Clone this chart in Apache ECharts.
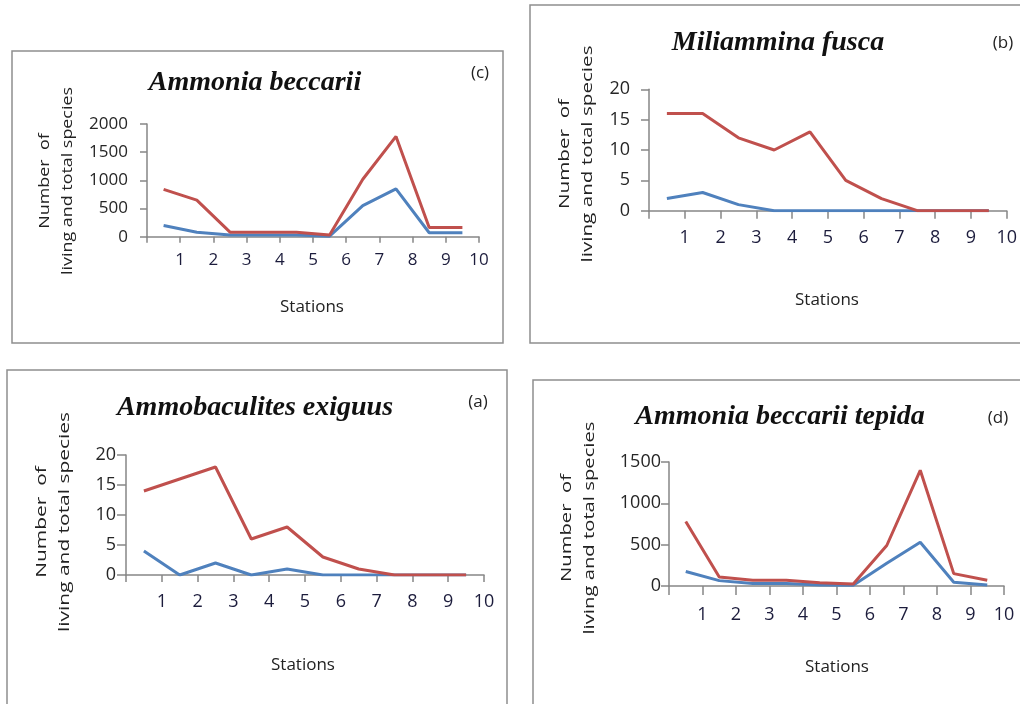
<!DOCTYPE html>
<html>
<head>
<meta charset="utf-8">
<script src="https://cdn.jsdelivr.net/npm/echarts@6/dist/echarts.min.js"></script>
<style>
  html, body { margin: 0; padding: 0; background: #ffffff; }
  #chart { width: 1020px; height: 704px; }
</style>
</head>
<body>
<div id="chart"></div>
<script>
// Stations along the x axis
const stations = ['1', '2', '3', '4', '5', '6', '7', '8', '9', '10'];

// Ammonia beccarii (c)
const beccariiLiving = [200, 80, 30, 30, 30, 10, 550, 850, 70, 70];
const beccariiTotal  = [840, 650, 80, 80, 80, 30, 1020, 1780, 165, 165];

// Miliammina fusca (b)
const fuscaLiving = [2, 3, 1, 0, 0, 0, 0, 0, 0, 0];
const fuscaTotal  = [16, 16, 12, 10, 13, 5, 2, 0, 0, 0];

// Ammobaculites exiguus (a)
const exiguusLiving = [4, 0, 2, 0, 1, 0, 0, 0, 0, 0];
const exiguusTotal  = [14, 16, 18, 6, 8, 3, 1, 0, 0, 0];

// Ammonia beccarii tepida (d)
const tepidaLiving = [175, 65, 30, 30, 12, 10, 275, 530, 45, 12];
const tepidaTotal  = [780, 110, 70, 70, 40, 25, 490, 1400, 150, 70];

const yAxisTitleLines = ['Number  of', 'living and total species'];
const xAxisTitle = 'Stations';

const BLUE = '#4f81bd';
const RED = '#c0504d';
const AXIS = '#868686';
const SANS = '"Open Sans", "Liberation Sans", sans-serif';
const SERIF = '"Liberation Serif", "DejaVu Serif", serif';
const Y_TITLE_FONT = '15px ' + SANS;

// Panel geometry (pixels)
const panels = [
  { tag: '(c)', name: 'Ammonia beccarii', living: beccariiLiving, total: beccariiTotal,
    max: 2000, step: 500,
    box: [12, 51, 491, 292], grid: [147, 124, 332, 112.7],
    titleAt: [255, 83], tagAt: [480, 73], yTitleAt: [56.5, 181], yTitleLen: 188, xTitleAt: [312, 307],
    fs: 17, yMargin: 19, yTick: 7, xTick: 6, xMargin: 15 },
  { tag: '(b)', name: 'Miliammina fusca', living: fuscaLiving, total: fuscaTotal,
    max: 20, step: 5,
    box: [530, 5, 520, 338], grid: [649, 89.3, 358, 121.4],
    titleAt: [778, 43], tagAt: [1003, 43], yTitleAt: [576.5, 154], yTitleLen: 217, xTitleAt: [827, 300],
    fs: 18, yMargin: 19, yTick: 8, xTick: 8, xMargin: 18 },
  { tag: '(a)', name: 'Ammobaculites exiguus', living: exiguusLiving, total: exiguusTotal,
    max: 20, step: 5,
    box: [7, 370, 500, 400], grid: [126, 455, 358, 120],
    titleAt: [255, 408], tagAt: [478, 402], yTitleAt: [53.5, 522], yTitleLen: 220, xTitleAt: [303, 665],
    fs: 18, yMargin: 10, yTick: 9, xTick: 7, xMargin: 18 },
  { tag: '(d)', name: 'Ammonia beccarii tepida', living: tepidaLiving, total: tepidaTotal,
    max: 1500, step: 500,
    box: [533, 380, 520, 400], grid: [669, 462, 335, 124],
    titleAt: [780, 417], tagAt: [998, 418], yTitleAt: [578.5, 528], yTitleLen: 213, xTitleAt: [837, 667],
    fs: 18, yMargin: 8, yTick: 8, xTick: 9, xMargin: 20 }
];

// Natural width of the longer y-title line, used to stretch it to the wanted length
const measureCtx = document.createElement('canvas').getContext('2d');
measureCtx.font = Y_TITLE_FONT;
const yTitleNatural = Math.max(...yAxisTitleLines.map(t => measureCtx.measureText(t).width));

const grid = [], xAxis = [], yAxis = [], series = [], graphic = [];

panels.forEach((p, i) => {
  grid.push({ left: p.grid[0], top: p.grid[1], width: p.grid[2], height: p.grid[3], containLabel: false });

  // Category axis carrying the data: points sit in the middle of each station band
  xAxis.push({
    type: 'category', gridIndex: i, data: stations, boundaryGap: true,
    axisLine: { show: true, lineStyle: { color: AXIS, width: 1.5 } },
    axisTick: { show: true, inside: false, length: p.xTick, lineStyle: { color: AXIS, width: 1.5 } },
    axisLabel: { show: false },
    splitLine: { show: false }
  });
  // Station numbers placed on the band boundaries
  xAxis.push({
    type: 'value', gridIndex: i, min: 0, max: stations.length, interval: 1, position: 'bottom',
    axisLine: { show: false }, axisTick: { show: false }, splitLine: { show: false },
    axisLabel: {
      margin: p.xMargin, fontFamily: SANS, fontSize: p.fs, color: '#1c1c3c',
      formatter: v => (v >= 1 ? stations[v - 1] : '')
    }
  });
  yAxis.push({
    type: 'value', gridIndex: i, min: 0, max: p.max, interval: p.step,
    axisLine: { show: true, lineStyle: { color: AXIS, width: 1.5 } },
    axisTick: { show: true, inside: false, length: p.yTick, lineStyle: { color: AXIS, width: 1.5 } },
    axisLabel: { margin: p.yMargin, fontFamily: SANS, fontSize: p.fs, color: '#262626',
      formatter: v => String(v) },
    splitLine: { show: false }
  });

  const lineOpts = { type: 'line', xAxisIndex: 2 * i, yAxisIndex: i, symbol: 'none',
    smooth: false, animation: false, z: 3 };
  series.push(Object.assign({ name: 'Living', data: p.living,
    lineStyle: { color: BLUE, width: 3 }, itemStyle: { color: BLUE } }, lineOpts));
  series.push(Object.assign({ name: 'Total', data: p.total,
    lineStyle: { color: RED, width: 3 }, itemStyle: { color: RED } }, lineOpts, { z: 4 }));

  // Panel frame
  graphic.push({ type: 'rect', shape: { x: p.box[0], y: p.box[1], width: p.box[2], height: p.box[3] },
    style: { fill: 'none', stroke: '#8f8f8f', lineWidth: 1.5 }, z: 1 });
  // Species name
  graphic.push({ type: 'text', x: p.titleAt[0], y: p.titleAt[1],
    style: { text: p.name, align: 'center', verticalAlign: 'middle', fill: '#111',
      font: 'italic bold 28px ' + SERIF }, z: 5 });
  // Panel letter
  graphic.push({ type: 'text', x: p.tagAt[0], y: p.tagAt[1],
    style: { text: p.tag, align: 'center', verticalAlign: 'middle', fill: '#222',
      font: '17px ' + SANS }, z: 5 });
  // Y axis title: two rotated lines, stretched along their length
  graphic.push({ type: 'text', x: p.yTitleAt[0], y: p.yTitleAt[1], rotation: Math.PI / 2,
    scaleX: p.yTitleLen / yTitleNatural, scaleY: 1,
    style: { text: yAxisTitleLines.join('\n'), align: 'center', verticalAlign: 'middle', fill: '#222',
      font: Y_TITLE_FONT, lineHeight: 23 }, z: 5 });
  // X axis title
  graphic.push({ type: 'text', x: p.xTitleAt[0], y: p.xTitleAt[1],
    style: { text: xAxisTitle, align: 'center', verticalAlign: 'middle', fill: '#222',
      font: '17px ' + SANS }, z: 5 });
});

const chart = echarts.init(document.getElementById('chart'), null, { renderer: 'canvas' });
chart.setOption({
  backgroundColor: '#ffffff',
  animation: false,
  grid, xAxis, yAxis, series, graphic
});
</script>
</body>
</html>
